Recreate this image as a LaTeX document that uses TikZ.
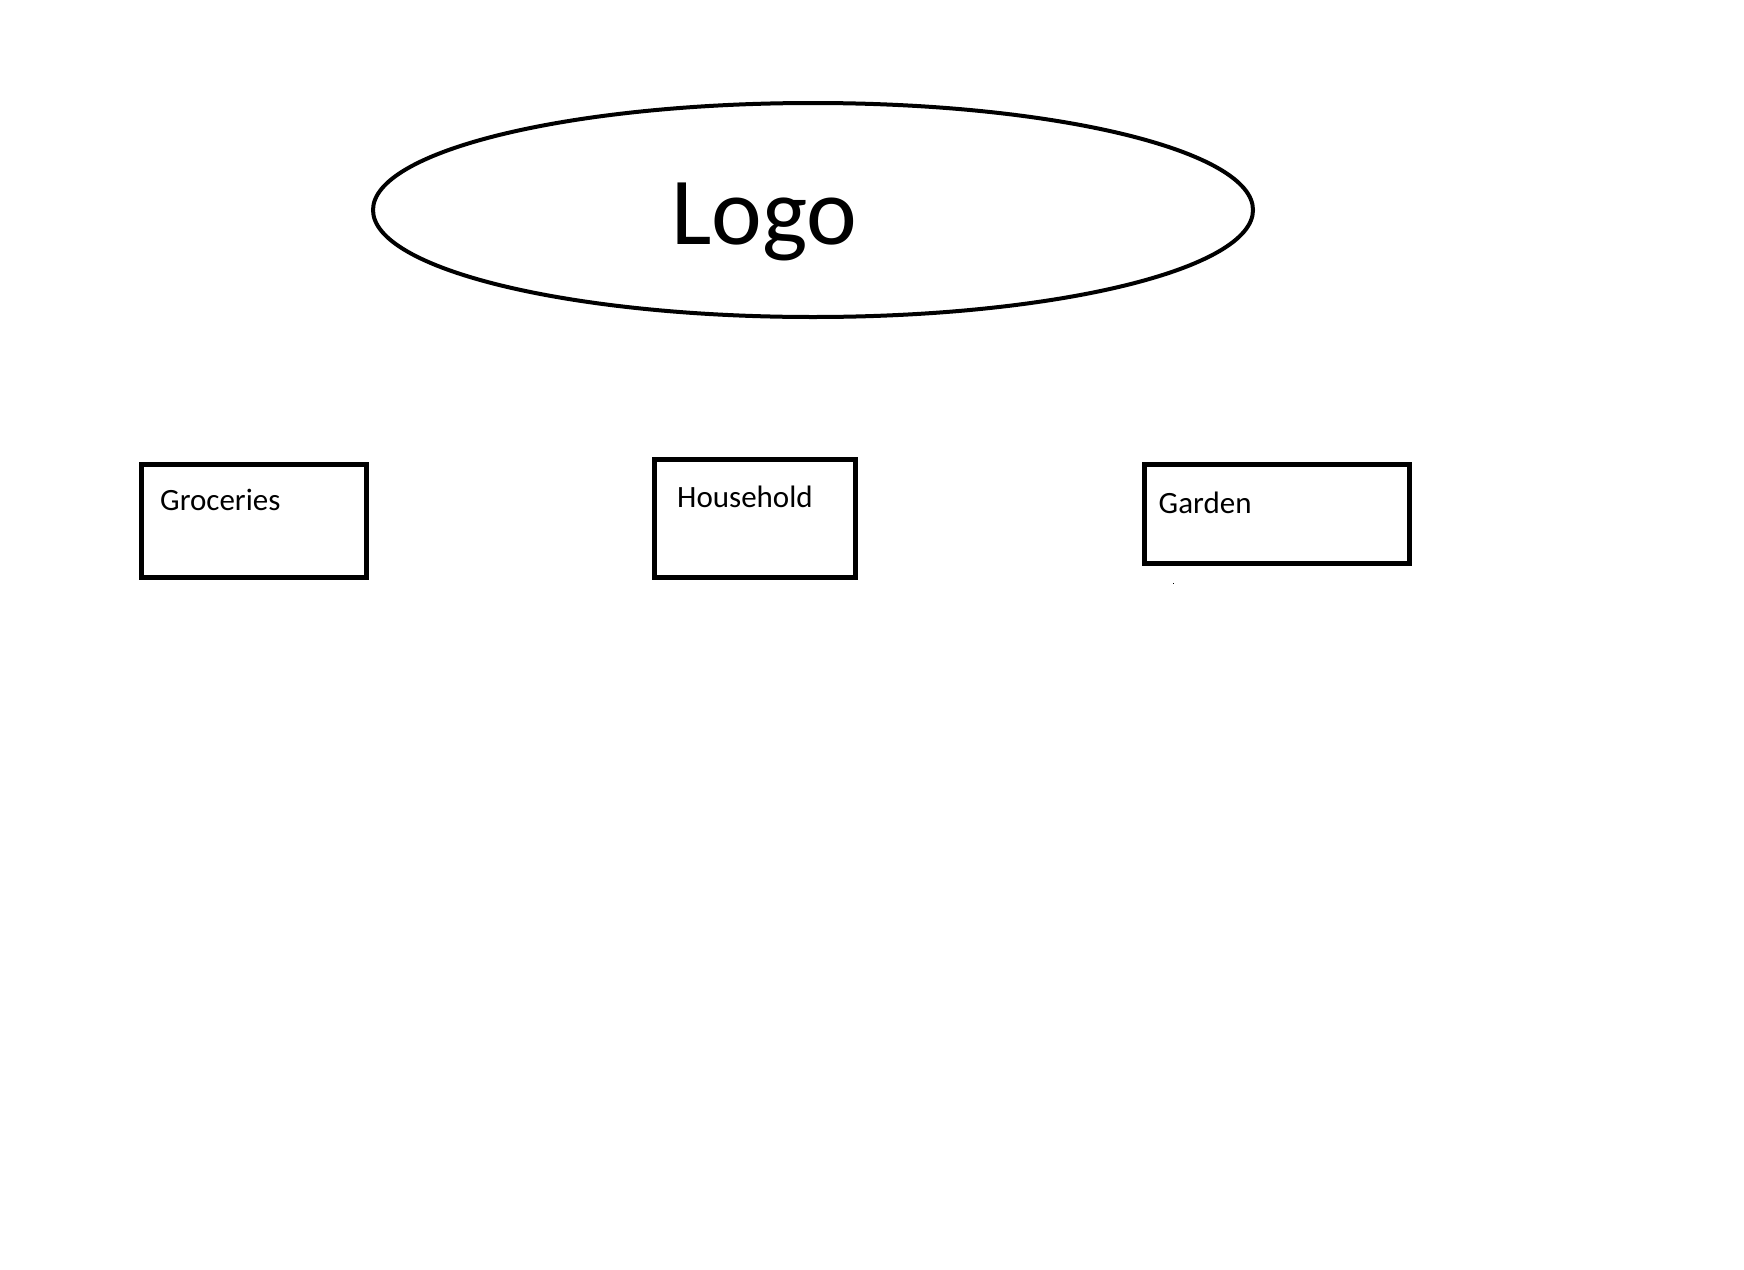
\documentclass[tikz,border=0pt]{standalone}
\usepackage{fontspec}
\setmainfont{Carlito}
\usetikzlibrary{shapes.geometric}
\tikzset{
  catbox/.style={draw=black, line width=5pt, rectangle, inner sep=0pt, minimum width=#1},
  lbl/.style={inner sep=0pt, anchor=base west, font=\fontsize{31}{37}\selectfont},
  logoshape/.style={draw=black, line width=4pt, ellipse, inner sep=0pt, minimum width=880pt, minimum height=214pt},
}
\begin{document}
\begin{tikzpicture}[x=1pt, y=-1pt]
\useasboundingbox (0,0) rectangle (1744,1269);
\fill[white] (0,0) rectangle (1744,1269);
% Logo ellipse
\node[logoshape] (logo) at (813,210) {};
\node[inner sep=0pt, anchor=base west, font=\fontsize{96}{115}\selectfont] (logotext) at (671,244) {Logo};
% Boxes
\node[catbox=225.5pt, minimum height=113pt] (groc) at (253.75,520.5) {};
\node[lbl] (groctext) at (160,510) {Groceries};
\node[catbox=201pt, minimum height=118pt] (house) at (754.5,518) {};
\node[lbl] (housetext) at (677,507) {Household};
\node[catbox=265pt, minimum height=99pt] (garden) at (1277,514) {};
\node[lbl] (gardentext) at (1158.5,513) {Garden};
% stray dot
\fill[black] (1172.5,582.5) rectangle (1174,584);
\end{tikzpicture}
\end{document}
